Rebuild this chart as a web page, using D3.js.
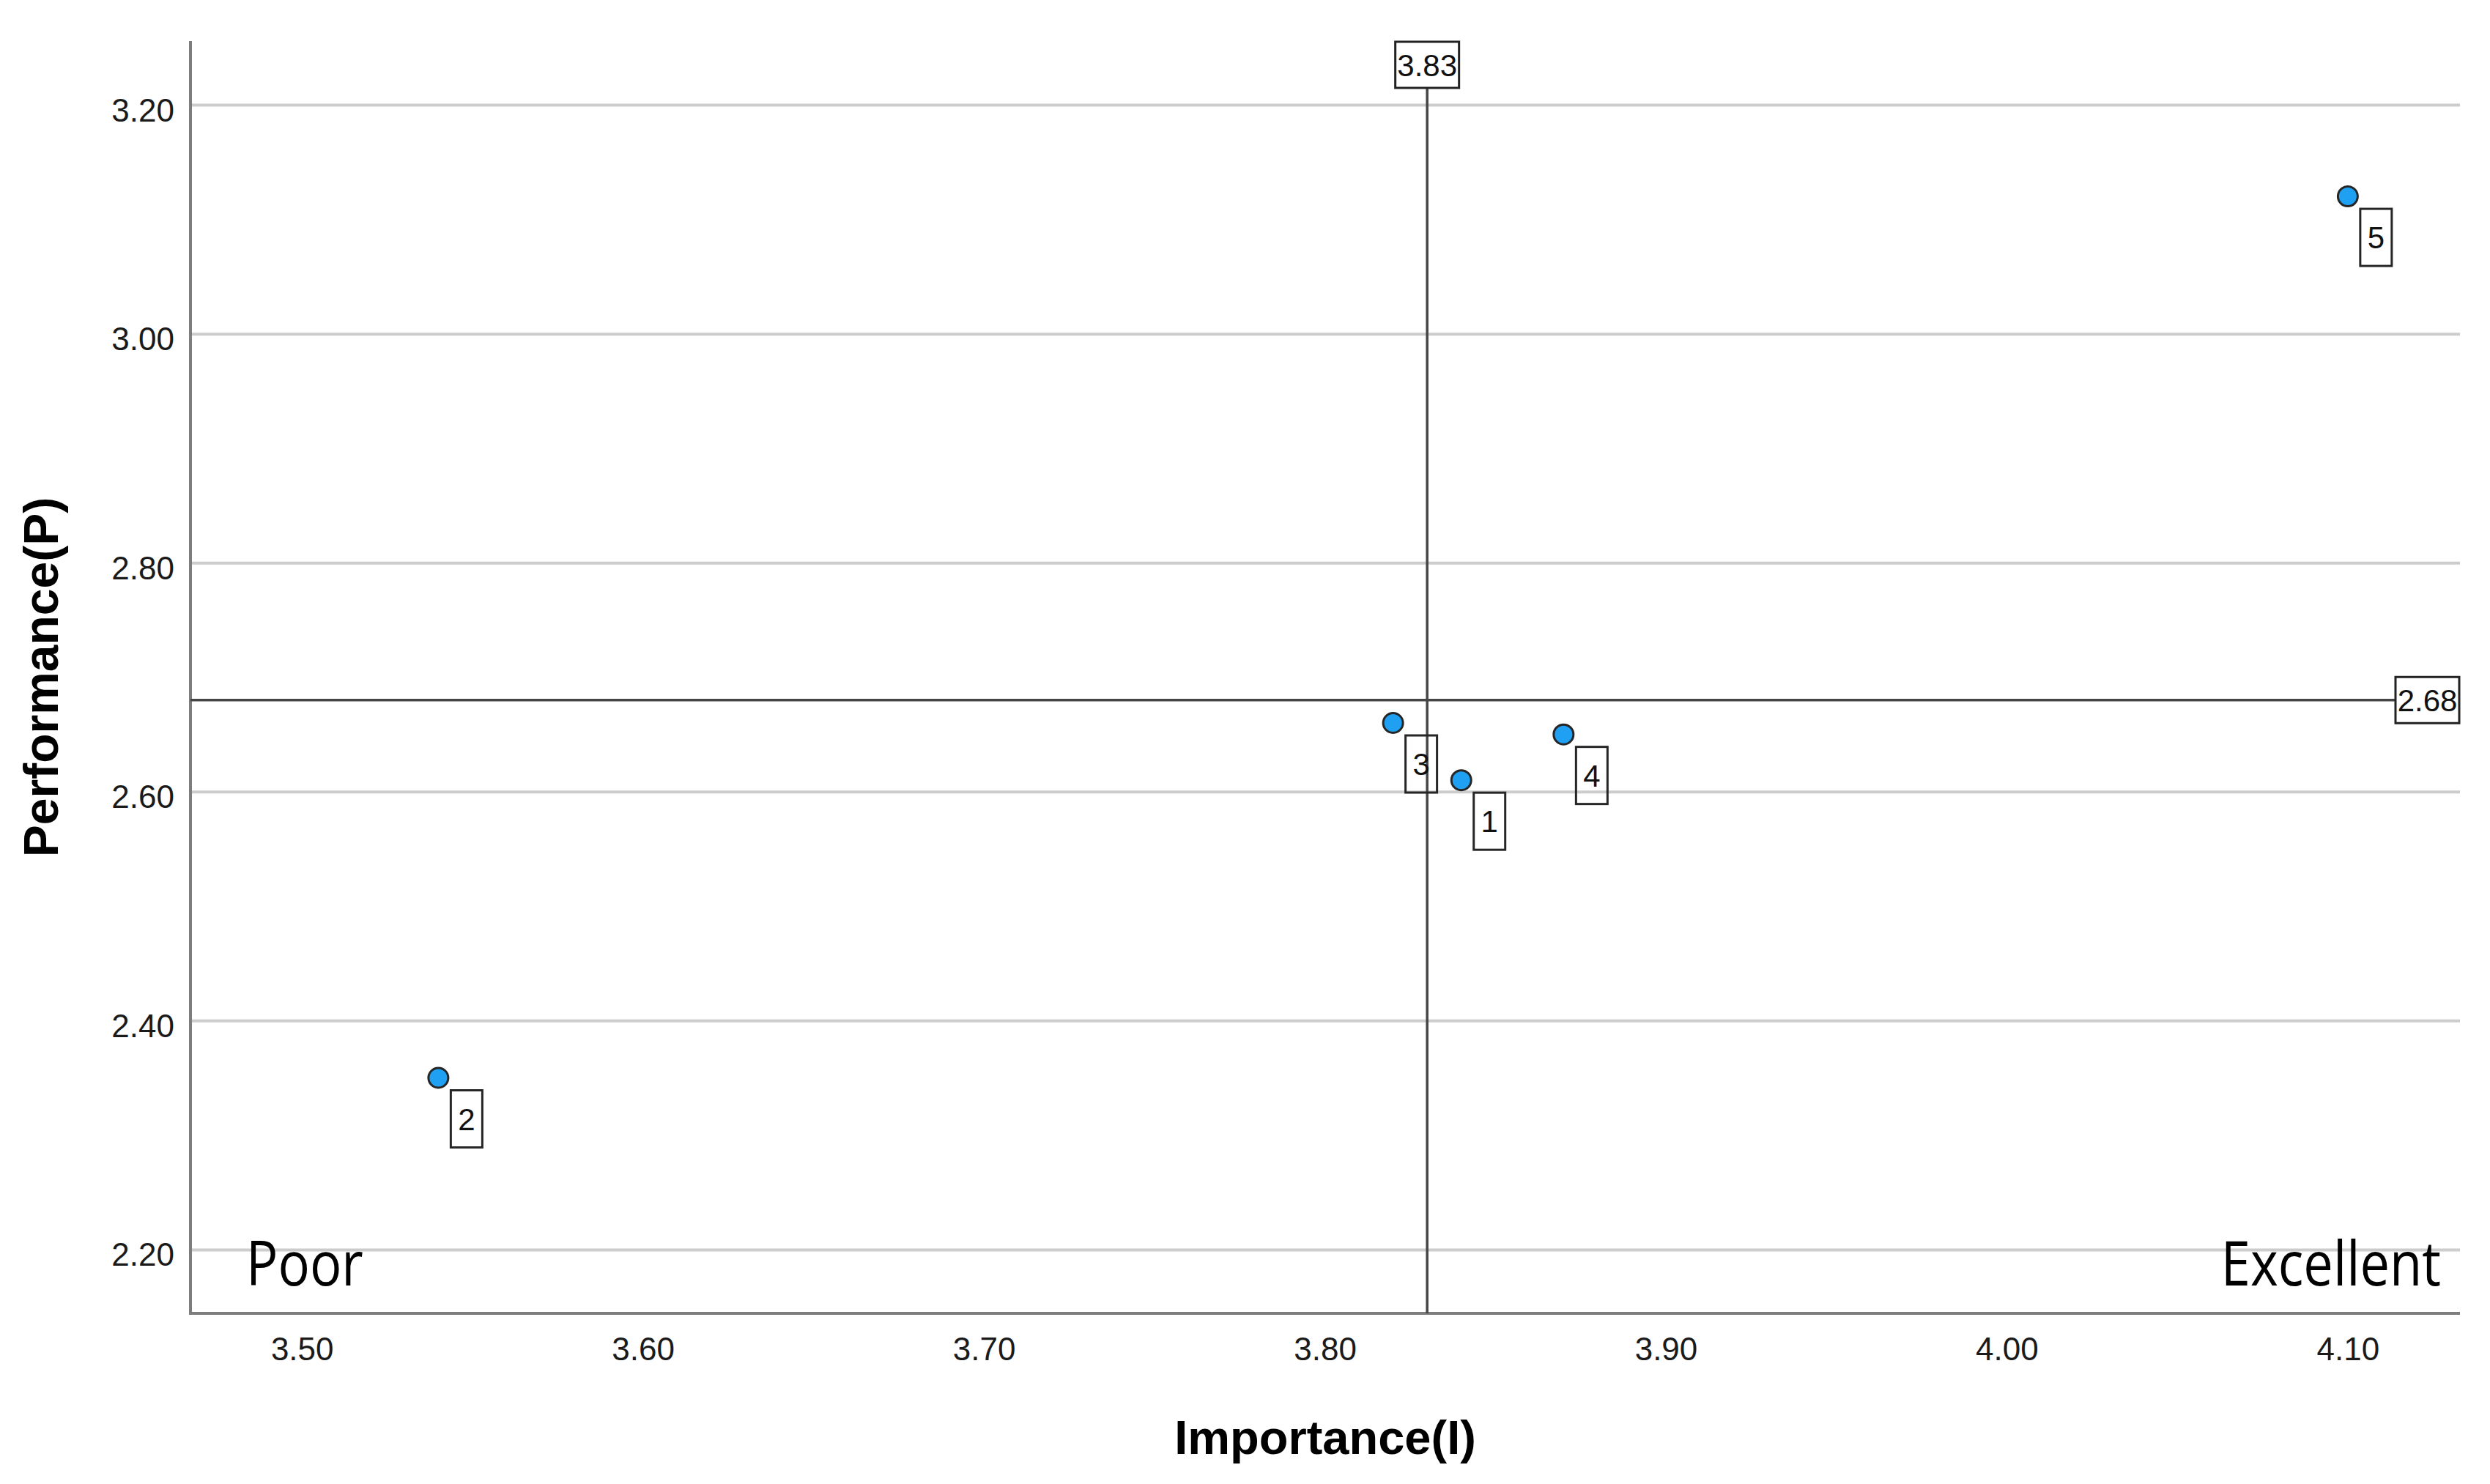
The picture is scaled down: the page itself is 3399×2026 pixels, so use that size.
<!DOCTYPE html>
<html><head><meta charset="utf-8">
<script src="https://cdn.jsdelivr.net/npm/d3@7"></script>
<style>body{margin:0;background:#fff} svg{display:block}</style>
</head><body><svg id="c" width="3399" height="2026"></svg>
<script>
// ---- data ----
const ids = ["1", "2", "3", "4", "5"];
const importance = [3.84, 3.54, 3.82, 3.87, 4.10];
const performance = [2.61, 2.35, 2.66, 2.65, 3.12];
const xTicks = [3.50, 3.60, 3.70, 3.80, 3.90, 4.00, 4.10];
const yTicks = [2.20, 2.40, 2.60, 2.80, 3.00, 3.20];
const meanImportance = 3.83;
const meanPerformance = 2.68;
const quadrantLabels = ["Poor", "Excellent"];
const xTitle = "Importance(I)";
const yTitle = "Performance(P)";
const xDomain = [3.4673, 4.1329];
const yDomain = [2.1443, 3.2557];

// ---- layout ----
const L = 260, R = 3358, T = 56, B = 1793;
const svg = d3.select("#c");
svg.append("rect").attr("width", 3399).attr("height", 2026).attr("fill", "#fff");

const x = d3.scaleLinear().domain(xDomain).range([L, R]);
const y = d3.scaleLinear().domain(yDomain).range([B, T]);
const fmt = d3.format(".2f");
const tickFont = "'Liberation Sans', Arial, sans-serif";

// y axis with gridlines
const gy = svg.append("g").attr("transform", `translate(${L},0)`)
  .call(d3.axisLeft(y).tickValues(yTicks).tickFormat(fmt).tickSize(-(R - L)).tickPadding(22));
gy.select(".domain").remove();
gy.selectAll(".tick line").attr("stroke", "#cccccc").attr("stroke-width", 4);
gy.selectAll(".tick text").attr("font-family", tickFont).attr("font-size", 44)
  .attr("fill", "#1a1a1a").attr("dy", "0.5em");

// x axis
const gx = svg.append("g").attr("transform", `translate(0,${B})`)
  .call(d3.axisBottom(x).tickValues(xTicks).tickFormat(fmt).tickSize(0).tickPadding(33));
gx.select(".domain").remove();
gx.selectAll(".tick text").attr("font-family", tickFont).attr("font-size", 44).attr("fill", "#1a1a1a");

// axis lines
svg.append("line").attr("x1", L).attr("x2", L).attr("y1", T).attr("y2", B + 2)
  .attr("stroke", "#7d7d7d").attr("stroke-width", 4);
svg.append("line").attr("x1", L - 2).attr("x2", R).attr("y1", B).attr("y2", B)
  .attr("stroke", "#7d7d7d").attr("stroke-width", 4);

// reference lines
const rx = x(meanImportance), ry = y(meanPerformance);
svg.append("line").attr("x1", rx).attr("x2", rx).attr("y1", T).attr("y2", B)
  .attr("stroke", "#454545").attr("stroke-width", 3.5);
svg.append("line").attr("x1", L).attr("x2", R).attr("y1", ry).attr("y2", ry)
  .attr("stroke", "#454545").attr("stroke-width", 3.5);

// reference labels
const refFont = "'Liberation Sans', Arial, sans-serif";
const bw = 87, bh = 63;
svg.append("rect").attr("x", rx - bw / 2).attr("y", T + 1).attr("width", bw).attr("height", bh)
  .attr("fill", "#fff").attr("stroke", "#222").attr("stroke-width", 3);
svg.append("text").attr("x", rx).attr("y", T + 1 + bh / 2).attr("dy", "0.36em")
  .attr("text-anchor", "middle").attr("font-family", refFont).attr("font-size", 42)
  .attr("fill", "#111").text(fmt(meanImportance));
svg.append("rect").attr("x", R - bw - 1).attr("y", ry - bh / 2).attr("width", bw).attr("height", bh)
  .attr("fill", "#fff").attr("stroke", "#222").attr("stroke-width", 3);
svg.append("text").attr("x", R - 1 - bw / 2).attr("y", ry).attr("dy", "0.36em")
  .attr("text-anchor", "middle").attr("font-family", refFont).attr("font-size", 42)
  .attr("fill", "#111").text(fmt(meanPerformance));

// points
const pts = ids.map((id, i) => ({ id, xv: importance[i], yv: performance[i] }));
svg.append("g").selectAll("circle").data(pts).join("circle")
  .attr("cx", d => x(d.xv)).attr("cy", d => y(d.yv)).attr("r", 13.5)
  .attr("fill", "#1fa0f2").attr("stroke", "#262626").attr("stroke-width", 3);

// point labels
const lw = 43, lh = 78, off = 17;
const lg = svg.append("g").selectAll("g").data(pts).join("g")
  .attr("transform", d => `translate(${x(d.xv) + off},${y(d.yv) + off})`);
lg.append("rect").attr("width", lw).attr("height", lh)
  .attr("fill", "none").attr("stroke", "#262626").attr("stroke-width", 3);
lg.append("text").attr("x", lw / 2).attr("y", lh / 2).attr("dy", "0.36em")
  .attr("text-anchor", "middle").attr("font-family", refFont).attr("font-size", 42)
  .attr("fill", "#111").text(d => d.id);

// quadrant labels
const qFont = "'Open Sans', 'Noto Sans', sans-serif";
svg.append("text").attr("transform", `translate(${L + 76},1755) scale(0.86,1)`)
  .attr("font-family", qFont).attr("font-size", 84).attr("fill", "#000").text(quadrantLabels[0]);
svg.append("text").attr("transform", `translate(${R - 26},1755) scale(0.86,1)`)
  .attr("text-anchor", "end")
  .attr("font-family", qFont).attr("font-size", 84).attr("fill", "#000").text(quadrantLabels[1]);

// titles
svg.append("text").attr("x", (L + R) / 2).attr("y", 1985).attr("text-anchor", "middle")
  .attr("font-family", tickFont).attr("font-weight", "bold").attr("font-size", 65)
  .attr("fill", "#000").text(xTitle);
svg.append("text").attr("transform", `translate(79,${(T + B) / 2}) rotate(-90)`)
  .attr("text-anchor", "middle")
  .attr("font-family", tickFont).attr("font-weight", "bold").attr("font-size", 66)
  .attr("fill", "#000").text(yTitle);
</script></body></html>
